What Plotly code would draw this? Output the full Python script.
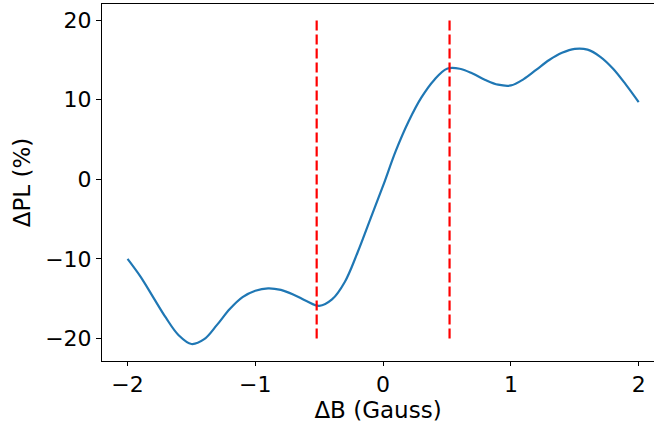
import plotly.graph_objects as go

delta_b = [-2.0, -1.9, -1.8, -1.7, -1.6, -1.5, -1.4, -1.3, -1.2, -1.1, -1.0,
           -0.9, -0.8, -0.7, -0.6, -0.5, -0.4, -0.3, -0.2, -0.1, 0.0,
           0.1, 0.2, 0.3, 0.4, 0.5, 0.6, 0.7, 0.8, 0.9, 1.0,
           1.1, 1.2, 1.3, 1.4, 1.5, 1.6, 1.7, 1.8, 1.9, 2.0]
delta_pl = [-10.0, -12.2, -14.8, -17.4, -19.6, -20.7, -20.1, -18.3, -16.3, -14.8, -14.0,
            -13.7, -13.9, -14.5, -15.3, -15.9, -15.1, -12.9, -9.2, -5.0, -0.8,
            3.6, 7.3, 10.3, 12.5, 13.9, 13.9, 13.3, 12.5, 11.9, 11.8,
            12.6, 13.8, 15.0, 15.9, 16.4, 16.3, 15.4, 13.9, 11.9, 9.7]
marker_b = [-0.52, 0.52]
marker_span = [-20, 20]
x_ticks = [-2, -1, 0, 1, 2]
y_ticks = [-20, -10, 0, 10, 20]

fig = go.Figure()
fig.add_trace(go.Scatter(x=delta_b, y=delta_pl, mode="lines",
                         line=dict(color="#1f77b4", width=2.2, shape="spline", smoothing=1.0),
                         showlegend=False, hoverinfo="skip"))
for xb in marker_b:
    fig.add_trace(go.Scatter(x=[xb, xb], y=marker_span, mode="lines",
                             line=dict(color="red", width=2.2, dash="10px,4px"),
                             showlegend=False, hoverinfo="skip"))

font = dict(family="DejaVu Sans", size=23, color="black")
tickfont = dict(family="DejaVu Sans", size=22, color="black")
fig.update_layout(
    width=654, height=423,
    margin=dict(l=102, r=0, t=4, b=62),
    paper_bgcolor="white", plot_bgcolor="white",
    font=font,
    xaxis=dict(range=[-2.2, 2.12], tickvals=x_ticks, ticktext=["\u22122", "\u22121", "0", "1", "2"],
               tickfont=tickfont,
               showline=True, linecolor="black", linewidth=1, mirror=True,
               ticks="outside", ticklen=4, tickcolor="black", showgrid=False, zeroline=False,
               title=dict(text="\u0394B (Gauss)", font=font, standoff=5)),
    yaxis=dict(range=[-22.84, 22.04], tickvals=y_ticks,
               ticktext=["\u221220", "\u221210", "0", "10", "20"],
               tickfont=tickfont,
               showline=True, linecolor="black", linewidth=1, mirror=False,
               ticks="outside", ticklen=5, tickcolor="black", showgrid=False, zeroline=False,
               title=dict(text="\u0394PL (%)", font=font, standoff=8)),
)
fig.write_html("out.html")
